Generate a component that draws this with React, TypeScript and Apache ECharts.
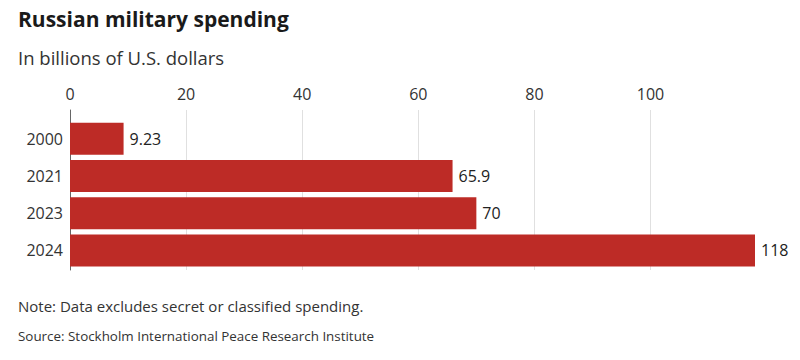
import React, { useEffect, useRef } from "react";
import * as echarts from "echarts";

const categories: string[] = ["2000", "2021", "2023", "2024"];
const spending: number[] = [9.23, 65.9, 70, 118];
const titleText = "Russian military spending";
const subtitleText = "In billions of U.S. dollars";
const noteText = "Note: Data excludes secret or classified spending.";
const sourceText = "Source: Stockholm International Peace Research Institute";

const FONT = "'Open Sans', Roboto, sans-serif";

export default function App() {
  const ref = useRef<HTMLDivElement>(null);
  useEffect(() => {
    if (!ref.current) return;
    const chart = echarts.init(ref.current, undefined, { renderer: "svg" });
    const left = 70;
    const right = 45;
    chart.setOption({
      animation: false,
      backgroundColor: "#ffffff",
      textStyle: { fontFamily: FONT },
      grid: [
        { left, right, top: 120, bottom: 91 },
        { left, right, top: 110, bottom: 90 },
      ],
      xAxis: [
        {
          gridIndex: 0,
          type: "value",
          min: 0,
          max: 118,
          show: false,
        },
        {
          gridIndex: 1,
          type: "value",
          position: "top",
          min: 0,
          max: 118,
          interval: 20,
          axisLine: { show: false },
          axisTick: { show: false },
          axisLabel: {
            show: true,
            showMaxLabel: false,
            margin: 8,
            fontSize: 16,
            color: "#333",
            fontFamily: FONT,
          },
          splitLine: {
            show: true,
            showMaxLine: false,
            lineStyle: { color: "#e0e0e0", width: 1 },
          },
        },
      ],
      yAxis: [
        {
          gridIndex: 0,
          type: "category",
          data: categories,
          inverse: true,
          axisLine: { show: false },
          axisTick: { show: false },
          splitLine: { show: false },
          axisLabel: {
            margin: 7,
            fontSize: 16,
            color: "#333",
            fontFamily: FONT,
          },
        },
        {
          gridIndex: 1,
          type: "value",
          min: 0,
          max: 1,
          axisLine: { show: true, onZero: false, lineStyle: { color: "#666", width: 1 } },
          axisTick: { show: false },
          axisLabel: { show: false },
          splitLine: { show: false },
        },
      ],
      series: [
        {
          type: "bar",
          xAxisIndex: 0,
          yAxisIndex: 0,
          data: spending,
          barWidth: 32,
          itemStyle: { color: "#bd2b26" },
          label: {
            show: true,
            position: "right",
            distance: 6,
            fontSize: 16,
            color: "#222",
            fontFamily: FONT,
            formatter: (p: any) => String(p.value),
          },
        },
      ],
      graphic: [
        {
          type: "text",
          left: 18,
          top: 8,
          style: {
            text: titleText,
            font: `bold 21px ${FONT}`,
            fill: "#1a1a1a",
          },
        },
        {
          type: "text",
          left: 18,
          top: 48,
          style: {
            text: subtitleText,
            font: `18.5px ${FONT}`,
            fill: "#333",
          },
        },
        {
          type: "text",
          left: 18,
          top: 298,
          style: {
            text: noteText,
            font: `15px ${FONT}`,
            fill: "#333",
          },
        },
        {
          type: "text",
          left: 18,
          top: 329,
          style: {
            text: sourceText,
            font: `13.4px ${FONT}`,
            fill: "#333",
          },
        },
      ],
    });
    return () => chart.dispose();
  }, []);
  return (
    <div
      ref={ref}
      style={{ position: "fixed", left: 0, top: 0, width: 800, height: 360 }}
    />
  );
}
